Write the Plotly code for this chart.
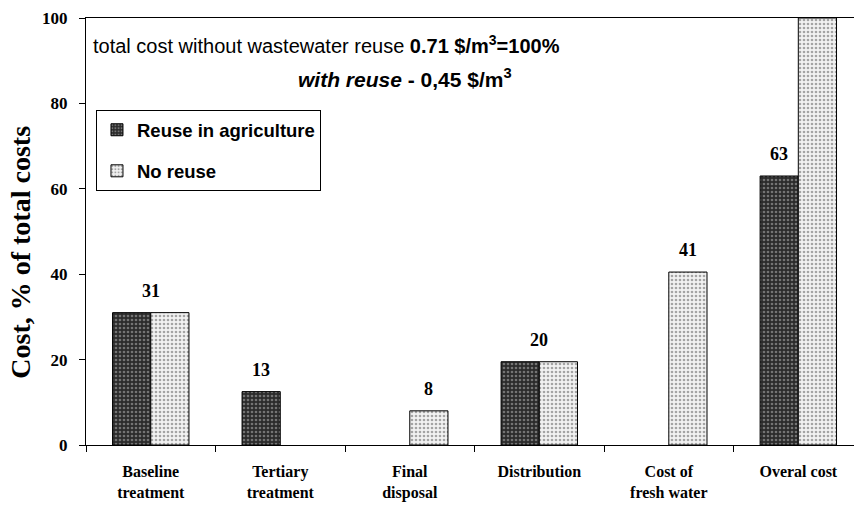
import plotly.graph_objects as go

categories = ["Baseline<br>treatment", "Tertiary<br>treatment", "Final<br>disposal",
              "Distribution", "Cost of<br>fresh water", "Overal cost"]
reuse_values = [31, 12.5, None, 19.5, None, 63]
noreuse_values = [31, None, 8, 19.5, 40.5, 100]
label_text = ["31", "13", "8", "20", "41", "63"]
label_y = [31, 12.5, 8, 19.5, 40.5, 63]
label_offset = [0, -0.148, 0.148, 0, 0.148, -0.148]
y_ticks = [0, 20, 40, 60, 80, 100]

xpos = list(range(len(categories)))
serif = "Liberation Serif, Times New Roman, serif"
sans = "Liberation Sans, Arial, sans-serif"

fig = go.Figure()
fig.add_trace(go.Bar(
    x=xpos, y=reuse_values, name="<b>Reuse in agriculture</b>", legendgroup="a",
    marker=dict(color="#2b2b2b", line=dict(color="black", width=1),
                pattern=dict(shape=".", fgcolor="#bdbdbd", bgcolor="#2b2b2b", size=4, solidity=0.35)),
))
fig.add_trace(go.Bar(
    x=xpos, y=noreuse_values, name="<b>No reuse</b>", legendgroup="b",
    marker=dict(color="#e0e0e0", line=dict(color="black", width=1),
                pattern=dict(shape=".", fgcolor="#555555", bgcolor="#f2f2f2", size=4, solidity=0.35)),
))

annotations = [
    dict(x=xi + off, y=yv, text=f"<b>{t}</b>", xref="x", yref="y",
         xanchor="center", yanchor="bottom", yshift=10, showarrow=False,
         font=dict(family=serif, size=18, color="black"))
    for xi, off, yv, t in zip(xpos, label_offset, label_y, label_text)
]
annotations += [
    dict(text="total cost without wastewater reuse <b>0.71 $/m<sup>3</sup>=100%</b>",
         xref="paper", yref="paper", x=0.006, y=0.937, xanchor="left", yanchor="middle",
         showarrow=False, font=dict(family=sans, size=20, color="black")),
    dict(text="<b><i>with reuse</i> - 0,45 $/m<sup>3</sup></b>",
         xref="paper", yref="paper", x=0.557, y=0.859, xanchor="right", yanchor="middle",
         showarrow=False, font=dict(family=sans, size=21, color="black")),
    dict(text="<b>Cost, % of total costs</b>", textangle=-90,
         xref="paper", yref="paper", x=-0.085, y=0.452, xanchor="center", yanchor="middle",
         showarrow=False, font=dict(family=serif, size=28, color="black")),
]

fig.update_layout(
    width=854, height=506,
    margin=dict(l=86, r=0, t=18, b=61, autoexpand=False),
    paper_bgcolor="white", plot_bgcolor="white",
    barmode="group", bargap=0.41, bargroupgap=0,
    showlegend=True,
    legend=dict(x=0.013, y=0.784, xanchor="left", yanchor="top",
                bordercolor="black", borderwidth=1, bgcolor="white",
                font=dict(family=sans, size=18.5, color="black"),
                tracegroupgap=14, itemwidth=30),
    xaxis=dict(range=[-0.5, 5.43], tickvals=xpos, ticktext=[f"<b>{c}</b>" for c in categories],
               ticks="", showline=True, linecolor="black", linewidth=1, mirror=True,
               showgrid=False, zeroline=False, automargin=False, ticklabelstandoff=12,
               tickfont=dict(family=serif, size=16, color="black"),
               minor=dict(tick0=-0.5, dtick=1, ticks="outside", ticklen=6, tickcolor="black", showgrid=False)),
    yaxis=dict(range=[0, 100], tickvals=y_ticks, ticktext=[f"<b>{v}</b>" for v in y_ticks],
               ticks="outside", ticklen=6, tickcolor="black", automargin=False,
               showline=True, linecolor="black", linewidth=1, showgrid=False, zeroline=False,
               tickfont=dict(family=serif, size=17, color="black"), ticklabelstandoff=8),
    annotations=annotations,
)

fig.write_html("out.html", config={"displayModeBar": False},
               post_script="document.body.style.margin='0px';document.body.style.overflow='hidden';")
